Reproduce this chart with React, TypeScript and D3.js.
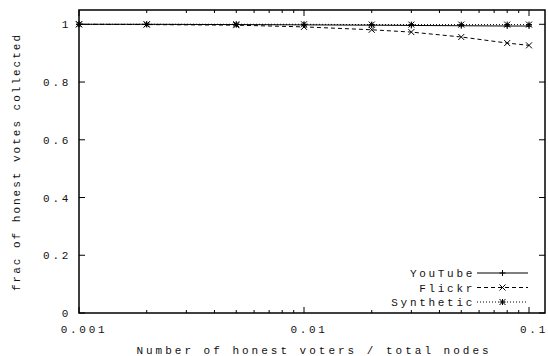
import React from 'react';
import * as d3 from 'd3';

const fractions = [0.001, 0.002, 0.005, 0.01, 0.02, 0.03, 0.05, 0.08, 0.1];
const youtube = [1, 1, 0.999, 0.998, 0.997, 0.996, 0.995, 0.994, 0.994];
const flickr = [1, 0.999, 0.997, 0.991, 0.981, 0.973, 0.956, 0.935, 0.927];
const synthetic = [1, 1, 1, 1, 0.999, 0.999, 0.999, 0.999, 0.999];
const seriesNames = ['YouTube', 'Flickr', 'Synthetic'];
const xTickValues = [0.001, 0.01, 0.1];
const xTickLabels = ['0.001', '0.01', '0.1'];
const yTickValues = [0, 0.2, 0.4, 0.6, 0.8, 1];
const yTickLabels = ['0', '0.2', '0.4', '0.6', '0.8', '1'];

const W = 548;
const H = 356;
const margin = { top: 10, right: 3, bottom: 43, left: 79 };
const font = '"Liberation Mono", "DejaVu Sans Mono", monospace';

function marker(kind: number, x: number, y: number, key: string) {
  const s = 3;
  const plus = `M${x - s},${y}H${x + s}M${x},${y - s}V${y + s}`;
  const cross = `M${x - s},${y - s}L${x + s},${y + s}M${x - s},${y + s}L${x + s},${y - s}`;
  const d = kind === 0 ? plus : kind === 1 ? cross : plus + cross;
  return <path key={key} d={d} stroke="#000" strokeWidth={1} fill="none" />;
}

export default function App() {
  const x0 = margin.left;
  const x1 = W - margin.right;
  const y0 = H - margin.bottom;
  const y1 = margin.top;

  // 0.1 sits at x=529, frame runs a bit past it
  const xScale = d3.scaleLog().domain([0.001, 0.1]).range([x0, 529]);
  const xMax = xScale.invert(x1);
  xScale.domain([0.001, xMax]).range([x0, x1]);
  const yScale = d3.scaleLinear().domain([0, 1.0495]).range([y0, y1]);

  const series = [youtube, flickr, synthetic];
  const dashes = ['none', '4,3', '1,2'];

  const line = d3
    .line<number>()
    .x((_, i) => xScale(fractions[i]))
    .y((d) => yScale(d));

  // minor ticks 2..9 for each decade
  const minor: number[] = [];
  [0.001, 0.01, 0.1].forEach((dec) => {
    for (let k = 2; k <= 9; k++) {
      const v = dec * k;
      if (v <= xMax) minor.push(v);
    }
  });

  const txt = { fontFamily: font, fontSize: 11, letterSpacing: 2.7, fill: '#111' };

  return (
    <svg width={W} height={H} style={{ position: 'absolute', left: 0, top: 0, background: '#fff' }}>
      <rect x={0} y={0} width={W} height={H} fill="#fff" />
      {/* y ticks */}
      {yTickValues.map((v, i) => (
        <g key={'yt' + i}>
          <line x1={x0} x2={x0 + 6} y1={yScale(v)} y2={yScale(v)} stroke="#000" />
          <line x1={x1} x2={x1 - 6} y1={yScale(v)} y2={yScale(v)} stroke="#000" />
          <text x={71} y={yScale(v) + 4} textAnchor="end" {...txt}>
            {yTickLabels[i]}
          </text>
        </g>
      ))}
      {/* x ticks */}
      {xTickValues.map((v, i) => (
        <g key={'xt' + i}>
          <line x1={xScale(v)} x2={xScale(v)} y1={y0} y2={y0 - 6} stroke="#000" />
          <line x1={xScale(v)} x2={xScale(v)} y1={y1} y2={y1 + 6} stroke="#000" />
          <text x={xScale(v) + 5} y={y0 + 20} textAnchor="middle" {...txt}>
            {xTickLabels[i]}
          </text>
        </g>
      ))}
      {minor.map((v, i) => (
        <g key={'mt' + i}>
          <line x1={xScale(v)} x2={xScale(v)} y1={y0} y2={y0 - 3} stroke="#000" />
          <line x1={xScale(v)} x2={xScale(v)} y1={y1} y2={y1 + 3} stroke="#000" />
        </g>
      ))}

      {/* series */}
      {series.map((vals, si) => (
        <g key={'s' + si}>
          <path d={line(vals) || ''} fill="none" stroke="#000" strokeWidth={1} strokeDasharray={dashes[si]} />
          {vals.map((v, i) => marker(si, xScale(fractions[i]), yScale(v), 'm' + si + '-' + i))}
        </g>
      ))}

      {/* legend */}
      {seriesNames.map((name, i) => {
        const ly = 273 + i * 14.5;
        return (
          <g key={'lg' + i}>
            <text x={475} y={ly + 4} textAnchor="end" {...txt}>
              {name}
            </text>
            <line x1={477} x2={528} y1={ly} y2={ly} stroke="#000" strokeDasharray={dashes[i]} />
            {marker(i, 502.5, ly, 'lm' + i)}
          </g>
        );
      })}

      {/* frame */}
      <rect x={x0} y={y1} width={x1 - x0} height={y0 - y1} fill="none" stroke="#000" strokeWidth={1.5} />

      {/* axis titles */}
      <text x={314} y={354} textAnchor="middle" {...txt} letterSpacing={3}>
        Number of honest voters / total nodes
      </text>
      <text
        transform={`translate(20,162) rotate(-90)`}
        textAnchor="middle"
        {...txt}
        letterSpacing={2}
      >
        frac of honest votes collected
      </text>
    </svg>
  );
}
